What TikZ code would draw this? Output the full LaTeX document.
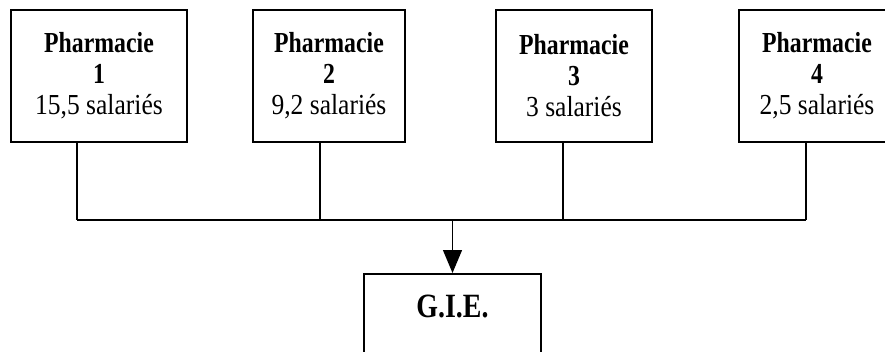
\documentclass[tikz,border=0pt]{standalone}
\usepackage{fontspec}
\setmainfont{Liberation Serif}[UprightFeatures={FakeStretch=0.88}, BoldFeatures={FakeStretch=0.82}]
\usetikzlibrary{arrows.meta,positioning,calc}

\tikzset{
  pharma/.style={draw, line width=1.5pt, minimum height=132pt, inner sep=0pt, align=center,
    font=\fontsize{29}{31}\selectfont},
  gie/.style={draw, line width=1.5pt, minimum width=177pt, inner xsep=0pt, inner ysep=21pt,
    text height=23pt, text depth=40pt, font=\fontsize{34}{36}\selectfont\bfseries},
  link/.style={line width=1.3pt},
  feed/.style={line width=1.3pt, -{Triangle[length=23pt,width=19pt]}}
}

\begin{document}
\begin{tikzpicture}[x=1pt, y=-1pt, line join=miter]
\useasboundingbox (0,0) rectangle (885,351);
% pharmacies
\node[pharma, minimum width=176pt] (ph1) at (99,76) {\textbf{Pharmacie}\\\textbf{1}\\15,5 salariés};
\node[pharma, minimum width=152pt] (ph2) at (329,76) {\textbf{Pharmacie}\\\textbf{2}\\9,2 salariés};
\node[pharma, minimum width=156pt] (ph3) at (574,76) {\textbf{Pharmacie}\\\textbf{3}\\3 salariés};
\node[pharma, minimum width=156pt] (ph4) at (817,76) {\textbf{Pharmacie}\\\textbf{4}\\2,5 salariés};
% groupement
\node[gie, anchor=north] (gie) at (452.5,273) {G.I.E.};
% bus
\coordinate (j1) at (77,220); \coordinate (j2) at (320,220);
\coordinate (j3) at (563,220); \coordinate (j4) at (806,220);
\coordinate (bus) at (gie.north |- j1);
\foreach \i in {1,...,4} \draw[link] (ph\i.south -| j\i) -- (j\i);
\draw[link] (j1) -- (j4);
\draw[feed] (bus) -- (gie.north);
\end{tikzpicture}
\end{document}
